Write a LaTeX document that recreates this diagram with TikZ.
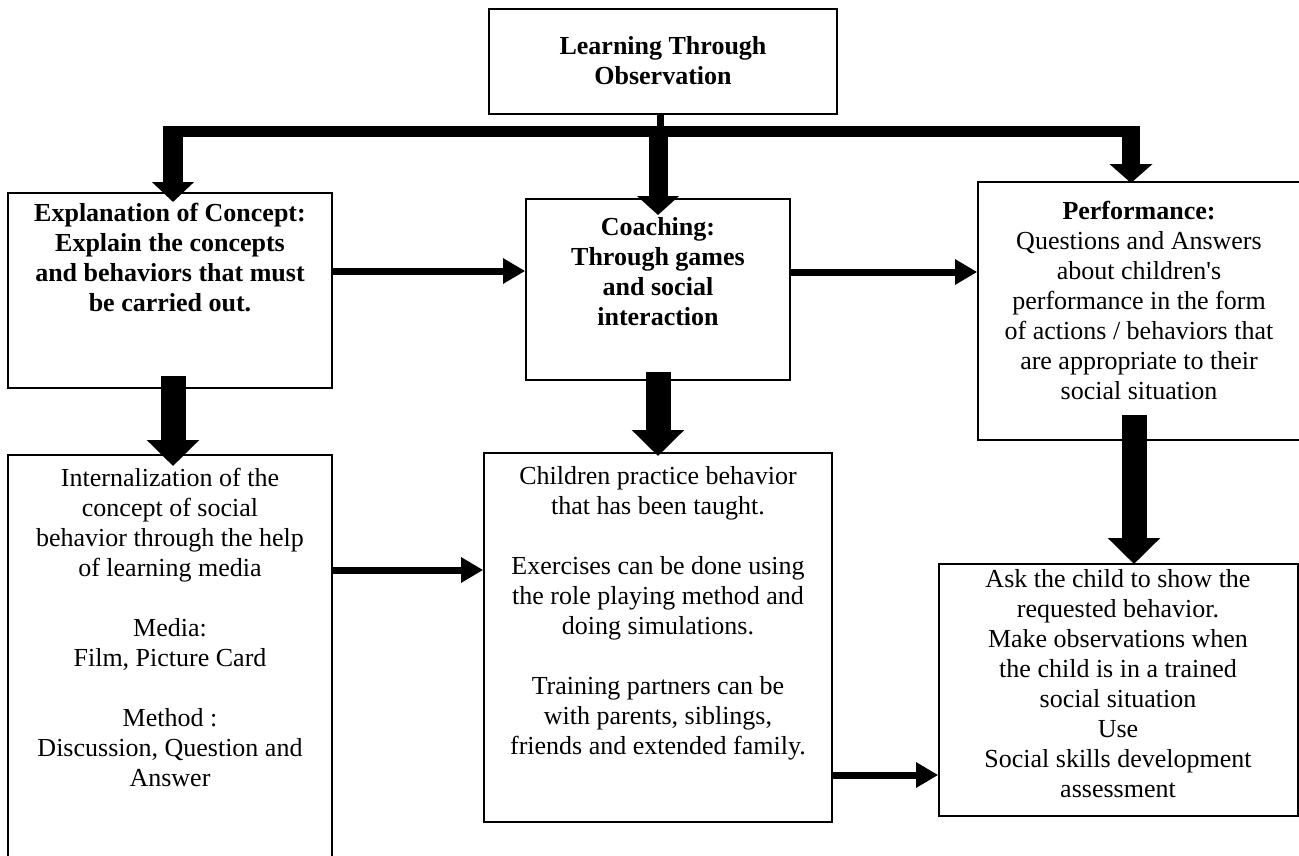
\documentclass[tikz,border=0pt]{standalone}
\usepackage{fontspec}
\setmainfont{Liberation Serif}
\usetikzlibrary{arrows.meta}
\begin{document}
\begin{tikzpicture}[x=1pt,y=-1pt,
  box/.style={draw,line width=1.6pt,inner sep=0pt},
  txt/.style={align=center,font=\fontsize{26}{30}\selectfont,inner sep=0pt,anchor=north},
  btxt/.style={txt,font=\fontsize{26}{30}\selectfont\bfseries},
  thin/.style={line width=7pt,-{Triangle[width=24pt,length=22pt]}},
]
\useasboundingbox (0,0) rectangle (1299,855);
% boxes
\node[box,minimum width=348pt,minimum height=105pt] (tb) at (663,61.5) {};
\node[box,minimum width=324pt,minimum height=195pt] (b1) at (170,290.5) {};
\node[box,minimum width=264pt,minimum height=181pt] (b2) at (658,289.5) {};
\node[box,minimum width=322pt,minimum height=258pt] (b3) at (1139,311) {};
\node[box,minimum width=324pt,minimum height=420pt] (c1) at (170,665) {};
\node[box,minimum width=348pt,minimum height=369pt] (c2) at (658,637.5) {};
\node[box,minimum width=359pt,minimum height=252pt] (c3) at (1118.5,690) {};
% texts
\node[btxt] (tbt) at (663,36) {Learning Through\\Observation};
\node[btxt] (b1t) at (170,203) {Explanation of Concept:\\Explain the concepts\\and behaviors that must\\be carried out.};
\node[btxt] (b2t) at (658,217) {Coaching:\\Through games\\and social\\interaction};
\node[txt] (b3t) at (1139,201) {\textbf{Performance:}\\Questions and Answers\\about children\textquotesingle s\\performance in the form\\of actions / behaviors that\\are appropriate to their\\social situation};
\node[txt] (c1t) at (170,468) {Internalization of the\\concept of social\\behavior through the help\\of learning media\\[30pt]Media:\\Film, Picture Card\\[30pt]Method :\\Discussion, Question and\\Answer};
\node[txt] (c2t) at (658,466) {Children practice behavior\\that has been taught.\\[30pt]Exercises can be done using\\the role playing method and\\doing simulations.\\[30pt]Training partners can be\\with parents, siblings,\\friends and extended family.};
\node[txt] (c3t) at (1118,569) {Ask the child to show the\\requested behavior.\\Make observations when\\the child is in a trained\\social situation\\Use\\Social skills development\\assessment};
% top distribution
\coordinate (topS) at (660,114);
\coordinate (barL) at (163,131.5);
\coordinate (barR) at (1140,131.5);
\coordinate (dL) at (173,126);
\coordinate (dM) at (658,126);
\coordinate (dR) at (1131,126);
\draw[line width=7pt] (topS) -- (660,131);
\draw[line width=11pt] (barL) -- (barR);
\draw[line width=20pt,-{Triangle[width=41pt,length=20pt]}] (dL) -- (173,202);
\draw[line width=19pt,-{Triangle[width=41pt,length=19pt]}] (dM) -- (658,215);
\draw[line width=18pt,-{Triangle[width=42pt,length=19pt]}] (dR) -- (1131,183);
% horizontal arrows
\draw[thin] (b1.east |- 0,271) -- (b2.west |- 0,271);
\draw[thin] (b2.east |- 0,272) -- (b3.west |- 0,272);
\draw[thin] (c1.east |- 0,570) -- (c2.west |- 0,570);
\draw[thin] (c2.east |- 0,775) -- (c3.west |- 0,775);
% down arrows
\draw[line width=25pt,-{Triangle[width=51pt,length=26pt]}] (173,376) -- (173,466);
\draw[line width=25pt,-{Triangle[width=51pt,length=26pt]}] (658,372) -- (658,456);
\draw[line width=25pt,-{Triangle[width=51pt,length=26pt]}] (1134,415) -- (1134,564);
\end{tikzpicture}
\end{document}
